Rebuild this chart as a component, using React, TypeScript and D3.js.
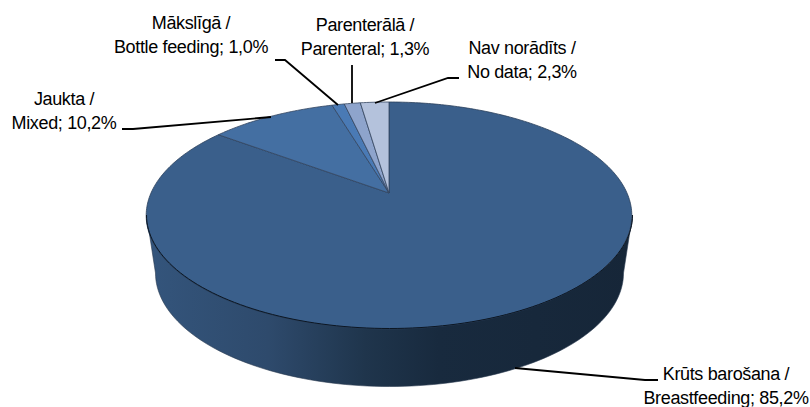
import React from "react";
import * as d3 from "d3";

const categories = ["Krūts barošana / Breastfeeding", "Jaukta / Mixed", "Mākslīgā / Bottle feeding", "Parenterālā / Parenteral", "Nav norādīts / No data"];
const values = [85.2, 10.2, 1.0, 1.3, 2.3];
const sliceColors = ["#3a5f8b", "#446fa2", "#4a7ab5", "#8ea4cc", "#b4c2dc"];
const labelLines = [
  ["Krūts barošana /", "Breastfeeding; 85,2%"],
  ["Jaukta /", "Mixed; 10,2%"],
  ["Mākslīgā /", "Bottle feeding; 1,0%"],
  ["Parenterālā /", "Parenteral; 1,3%"],
  ["Nav norādīts /", "No data; 2,3%"],
];
// label text centre x, first baseline y
const labelCentres = [[726, 380], [64, 105], [191, 29], [365, 31], [522, 54]];
const leaders: [number, number][][] = [
  [[515, 368], [645, 380], [658, 380]],
  [[271, 117], [133, 129], [122, 129]],
  [[338, 105], [285, 60], [275, 60]],
  [[352, 103], [352, 65]],
  [[375, 103], [448, 78], [459, 78]],
];

const W = 810, H = 407;
// perspective-projected disc
const CX = 389, CY0 = 193, K = -0.198, B = 70.8, A = 238;
const project = (angle: number): [number, number] => {
  const u = Math.sin(angle), v = -Math.cos(angle), w = 1 + K * v;
  return [CX + (A * u) / w, (B * v + CY0) / w];
};

const pie = d3.pie<number>().sort(null).startAngle(0).endAngle(2 * Math.PI);
const arcs = pie(values);
const line = d3.line<[number, number]>();

const samples = (a: number, b: number) => {
  const n = Math.max(4, Math.ceil((b - a) * 60));
  return d3.range(n + 1).map((i) => project(a + ((b - a) * i) / n));
};

// extruded rim
const topRim = { cx: 389.5, cy: 215, rx: 243, ry: 113.5 };
const botRim = { cx: 389.5, cy: 273, rx: 234, ry: 113.5 };
const rimPts = (r: typeof topRim, from: number, to: number) =>
  d3.range(101).map((i) => {
    const t = from + ((to - from) * i) / 100;
    return [r.cx + r.rx * Math.cos(t), r.cy + r.ry * Math.sin(t)] as [number, number];
  });
const sidePath = line([...rimPts(topRim, Math.PI, 0), ...rimPts(botRim, 0, Math.PI)]) + "Z";
const frontEdge = line(rimPts(topRim, Math.PI, 0)) as string;

export default function App() {
  return (
    <svg width={W} height={H} viewBox={`0 0 ${W} ${H}`} style={{ position: "absolute", left: 0, top: 0, background: "#fff" }}>
      <defs>
        <linearGradient id="side" x1="0" x2="1" y1="0" y2="0">
          <stop offset="0" stopColor="#34557c" />
          <stop offset="0.25" stopColor="#2e4a6c" />
          <stop offset="0.45" stopColor="#1f354c" />
          <stop offset="0.6" stopColor="#182a3e" />
          <stop offset="1" stopColor="#162638" />
        </linearGradient>
      </defs>
      <path d={sidePath} fill="url(#side)" stroke="#27384d" strokeWidth={0.6} />
      {arcs.map((d, i) => (
        <path
          key={categories[i]}
          d={(line([[CX, CY0], ...samples(d.startAngle, d.endAngle)]) as string) + "Z"}
          fill={sliceColors[i]}
          stroke={i === 0 ? "#2a3f5a" : "#33455f"}
          strokeWidth={0.8}
          strokeLinejoin="round"
        />
      ))}
      <path d={frontEdge} fill="none" stroke="#0c1622" strokeWidth={1} />
      {leaders.map((pts, i) => (
        <path key={i} d={line(pts) as string} fill="none" stroke="#000" strokeWidth={1.8} />
      ))}
      {labelLines.map((ls, i) => (
        <text key={i} textAnchor="middle" fontFamily="'Liberation Sans', Arial, sans-serif" fontSize={18} letterSpacing={-0.35} fill="#000">
          {ls.map((t, j) => (
            <tspan key={j} x={labelCentres[i][0]} y={labelCentres[i][1] + j * 24}>{t}</tspan>
          ))}
        </text>
      ))}
    </svg>
  );
}
